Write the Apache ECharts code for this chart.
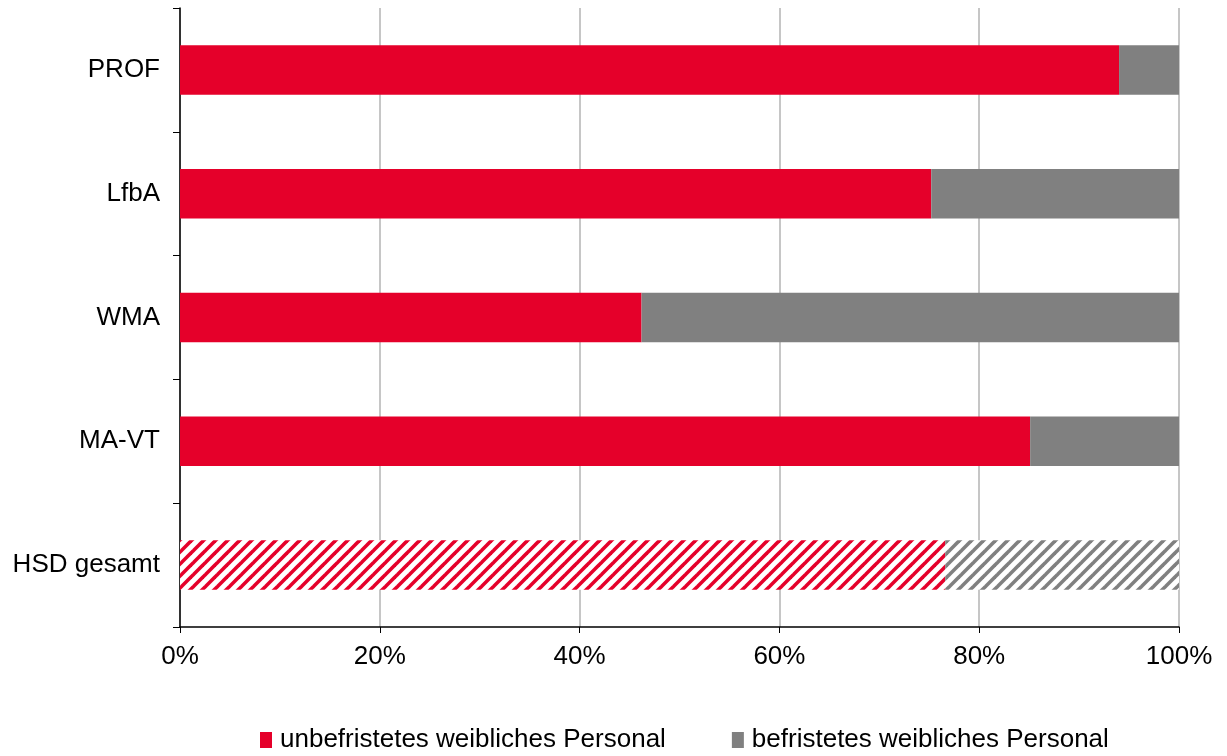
<!DOCTYPE html>
<html>
<head>
<meta charset="utf-8">
<script src="https://cdn.jsdelivr.net/npm/echarts@6/dist/echarts.min.js"></script>
<style>
  html, body { margin: 0; padding: 0; background: #fff; }
  #main { width: 1227px; height: 756px; }
</style>
</head>
<body>
<div id="main"></div>
<script>
// Daten
const categories = ['PROF', 'LfbA', 'WMA', 'MA-VT', 'HSD gesamt'];
const unbefristet = [94.0, 75.2, 46.2, 85.1, 76.6];
const befristet = [6.0, 24.8, 53.8, 14.9, 23.4];
const xTicks = [0, 20, 40, 60, 80, 100];

const RED = '#e5002a';
const GREY = '#808080';
const FONT = 'Liberation Sans, Arial, sans-serif';

// schraffiertes Muster für "HSD gesamt"
function hatch(color) {
  const c = document.createElement('canvas');
  c.width = 12; c.height = 12;
  const ctx = c.getContext('2d');
  ctx.fillStyle = '#ffffff';
  ctx.fillRect(0, 0, 12, 12);
  ctx.strokeStyle = color;
  ctx.lineWidth = 3.6;
  // Linien y = -x + k, über die Kachel hinaus verlängert
  for (const k of [-12, 0, 12, 24, 36]) {
    ctx.beginPath();
    ctx.moveTo(-12, k + 12);
    ctx.lineTo(24, k - 24);
    ctx.stroke();
  }
  return { image: c, repeat: 'repeat' };
}

function toData(values, color) {
  return values.map((v, i) => {
    if (categories[i] === 'HSD gesamt') {
      return { value: v, itemStyle: { color: hatch(color) } };
    }
    return v;
  });
}

const chart = echarts.init(document.getElementById('main'));

const option = {
  animation: false,
  textStyle: { fontFamily: FONT },
  grid: { left: 180, right: 48, top: 8, bottom: 129, containLabel: false },
  legend: {
    top: 722,
    left: 255,
    itemWidth: 12,
    itemHeight: 16,
    itemGap: 66,
    icon: 'rect',
    textStyle: { fontSize: 26, color: '#000', fontFamily: FONT, padding: [0, 0, 0, 3] },
    data: ['unbefristetes weibliches Personal', 'befristetes weibliches Personal']
  },
  xAxis: {
    type: 'value',
    min: 0,
    max: 100,
    interval: 20,
    axisLine: { show: true, lineStyle: { color: '#000', width: 1.5 } },
    axisTick: { show: true, length: 6, lineStyle: { color: '#000' } },
    axisLabel: {
      fontSize: 26,
      color: '#000',
      margin: 17,
      formatter: v => xTicks.includes(v) ? v + '%' : ''
    },
    splitLine: { show: true, lineStyle: { color: '#b3b3b3', width: 1.5 } }
  },
  yAxis: {
    type: 'category',
    data: categories,
    inverse: true,
    axisLine: { show: true, lineStyle: { color: '#000', width: 1.5 } },
    axisTick: { show: true, length: 7, lineStyle: { color: '#000' } },
    axisLabel: { fontSize: 26, color: '#000', margin: 20 }
  },
  series: [
    {
      name: 'unbefristetes weibliches Personal',
      type: 'bar',
      stack: 'gesamt',
      barWidth: '40%',
      itemStyle: { color: RED },
      data: toData(unbefristet, RED)
    },
    {
      name: 'befristetes weibliches Personal',
      type: 'bar',
      stack: 'gesamt',
      barWidth: '40%',
      itemStyle: { color: GREY },
      data: toData(befristet, GREY)
    }
  ]
};

chart.setOption(option);
</script>
</body>
</html>
